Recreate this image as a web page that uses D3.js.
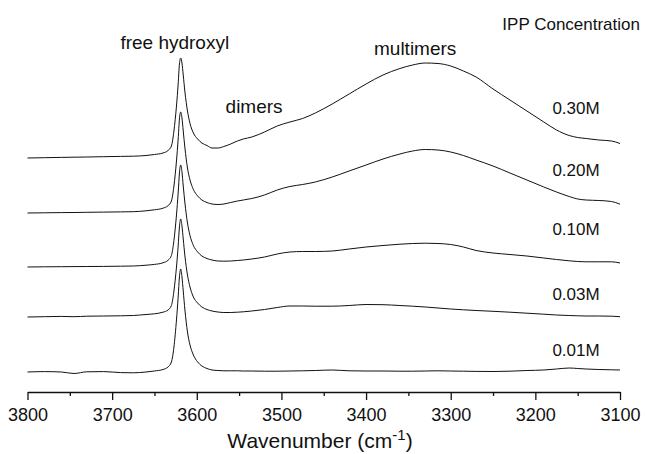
<!DOCTYPE html>
<html>
<head>
<meta charset="utf-8">
<script src="https://cdn.jsdelivr.net/npm/d3@7"></script>
<style>
  html, body { margin: 0; padding: 0; background: #fff; }
  svg { display: block; }
  text { font-family: "Liberation Sans", Arial, Helvetica, sans-serif; fill: #111; }
</style>
</head>
<body>
<svg id="chart" width="646" height="454"></svg>
<script>
// ---------- DATA ----------
const wavenumbers = [3800, 3780, 3760, 3745, 3730, 3710, 3690, 3675, 3660, 3650, 3640, 3634, 3630, 3627, 3624, 3622, 3620.5, 3619, 3617.5, 3616, 3614, 3611, 3608, 3604, 3599, 3594, 3588, 3582, 3575, 3568, 3560, 3552, 3545, 3535, 3520, 3505, 3490, 3475, 3460, 3440, 3420, 3400, 3380, 3360, 3345, 3330, 3315, 3300, 3285, 3270, 3250, 3230, 3210, 3190, 3175, 3160, 3150, 3140, 3125, 3110, 3100];

const concentrations = ["0.01M", "0.03M", "0.10M", "0.20M", "0.30M"];
const offsets = [0, 0.55, 1.05, 1.59, 2.14];

const s001 = [0, 0.004, 0.0, -0.015, 0.002, 0.004, -0.006, -0.008, 0.0, 0.01, 0.025, 0.05, 0.1, 0.25, 0.52, 0.75, 0.95, 1.03, 0.95, 0.81, 0.62, 0.4, 0.27, 0.17, 0.1, 0.06, 0.035, 0.02, 0.015, 0.012, 0.012, 0.012, 0.01, 0.01, 0.008, 0.008, 0.01, 0.012, 0.015, 0.02, 0.012, 0.01, 0.01, 0.008, 0.008, 0.01, 0.012, 0.01, 0.008, 0.006, 0.005, 0.008, 0.015, 0.02, 0.03, 0.04, 0.035, 0.03, 0.025, 0.022, 0.02];

const s003 = [0, 0.003, 0.006, 0.003, 0.008, 0.01, 0.012, 0.015, 0.025, 0.032, 0.048, 0.07, 0.115, 0.26, 0.5, 0.71, 0.9, 0.98, 0.91, 0.78, 0.61, 0.42, 0.3, 0.2, 0.14, 0.1, 0.075, 0.06, 0.05, 0.045, 0.045, 0.048, 0.052, 0.06, 0.075, 0.095, 0.11, 0.11, 0.108, 0.108, 0.115, 0.125, 0.123, 0.115, 0.108, 0.1, 0.09, 0.08, 0.072, 0.065, 0.057, 0.048, 0.038, 0.028, 0.02, 0.015, 0.012, 0.01, 0.01, 0.008, 0.003];

const s010 = [0, 0.002, 0.003, 0.004, 0.005, 0.006, 0.008, 0.01, 0.018, 0.026, 0.042, 0.067, 0.115, 0.265, 0.52, 0.74, 0.94, 1.02, 0.95, 0.81, 0.64, 0.44, 0.315, 0.215, 0.15, 0.11, 0.085, 0.07, 0.06, 0.058, 0.06, 0.065, 0.07, 0.08, 0.1, 0.13, 0.15, 0.155, 0.155, 0.16, 0.18, 0.2, 0.215, 0.228, 0.235, 0.238, 0.235, 0.225, 0.2, 0.165, 0.14, 0.125, 0.11, 0.09, 0.075, 0.062, 0.055, 0.052, 0.052, 0.052, 0.04];

const s020 = [0, 0.002, 0.004, 0.005, 0.007, 0.009, 0.011, 0.013, 0.022, 0.032, 0.048, 0.073, 0.12, 0.27, 0.52, 0.74, 0.94, 1.01, 0.95, 0.82, 0.65, 0.45, 0.33, 0.235, 0.17, 0.13, 0.105, 0.09, 0.085, 0.09, 0.105, 0.12, 0.13, 0.145, 0.18, 0.23, 0.265, 0.285, 0.31, 0.36, 0.42, 0.48, 0.54, 0.59, 0.62, 0.635, 0.63, 0.61, 0.575, 0.53, 0.47, 0.40, 0.33, 0.26, 0.21, 0.165, 0.14, 0.13, 0.125, 0.115, 0.088];

const s030 = [0, 0.003, 0.006, 0.008, 0.01, 0.013, 0.016, 0.018, 0.025, 0.035, 0.05, 0.075, 0.12, 0.27, 0.52, 0.74, 0.94, 1.0, 0.95, 0.83, 0.66, 0.47, 0.345, 0.25, 0.19, 0.15, 0.125, 0.10, 0.10, 0.115, 0.14, 0.17, 0.19, 0.21, 0.26, 0.32, 0.36, 0.395, 0.45, 0.54, 0.64, 0.74, 0.83, 0.895, 0.93, 0.95, 0.945, 0.92, 0.87, 0.81, 0.69, 0.58, 0.47, 0.36, 0.28, 0.225, 0.205, 0.195, 0.18, 0.17, 0.145];

const seriesList = [s001, s003, s010, s020, s030];

const xTicks = [3800, 3700, 3600, 3500, 3400, 3300, 3200, 3100];
const xMinorTicks = [3750, 3650, 3550, 3450, 3350, 3250, 3150];

const annotations = [
  { text: "free hydroxyl", wn: 3626, v: 3.23, anchor: "middle" },
  { text: "dimers", wn: 3566, v: 2.59, anchor: "start" },
  { text: "multimers", wn: 3342, v: 3.17, anchor: "middle" }
];
const labelY = [0.16, 0.72, 1.37, 1.96, 2.58]; // label baselines in plot units

// ---------- CHART ----------
const svg = d3.select("#chart");
const x = d3.scaleLinear().domain([3800, 3100]).range([27.5, 620]);
const y = d3.scaleLinear().domain([-0.2, 3.3]).range([392, 42]);

const line = d3.line()
  .x((d) => x(d[0]))
  .y((d) => y(d[1]))
  .curve(d3.curveMonotoneX);

seriesList.forEach((vals, i) => {
  const pts = wavenumbers.map((w, j) => [w, vals[j] + offsets[i]]);
  svg.append("path")
    .datum(pts)
    .attr("fill", "none")
    .attr("stroke", "#111")
    .attr("stroke-width", 1)
    .attr("d", line);
});

// axis
const axisY = y(-0.2);
const gMinor = svg.append("g")
  .attr("transform", `translate(0,${axisY})`)
  .call(d3.axisBottom(x).tickValues(xMinorTicks).tickSize(4).tickSizeOuter(0).tickFormat(""));
gMinor.select(".domain").remove();
gMinor.selectAll("line").attr("stroke", "#111").attr("stroke-width", 1.3);

const gAxis = svg.append("g")
  .attr("transform", `translate(0,${axisY})`)
  .call(d3.axisBottom(x).tickValues(xTicks).tickSize(8).tickSizeOuter(0).tickPadding(8).tickFormat(d3.format("d")));
gAxis.select(".domain").attr("stroke", "#111").attr("stroke-width", 1.3);
gAxis.selectAll("line").attr("stroke", "#111").attr("stroke-width", 1.3);
gAxis.selectAll("text")
  .attr("font-size", 18)
  .attr("font-family", '"Liberation Sans", Arial, Helvetica, sans-serif')
  .attr("fill", "#111");

// axis title
const title = svg.append("text")
  .attr("x", 320)
  .attr("y", 448)
  .attr("text-anchor", "middle")
  .attr("font-size", 21);
title.append("tspan").text("Wavenumber (cm");
title.append("tspan").attr("font-size", 15).attr("dy", -8).text("-1");
title.append("tspan").attr("dy", 8).text(")");

// annotations
annotations.forEach((a) => {
  svg.append("text")
    .attr("x", x(a.wn))
    .attr("y", y(a.v))
    .attr("text-anchor", a.anchor)
    .attr("font-size", 19)
    .text(a.text);
});

svg.append("text")
  .attr("x", 640)
  .attr("y", 30)
  .attr("text-anchor", "end")
  .attr("font-size", 17)
  .text("IPP Concentration");

concentrations.forEach((c, i) => {
  svg.append("text")
    .attr("x", 576)
    .attr("y", y(labelY[i]))
    .attr("text-anchor", "middle")
    .attr("font-size", 17)
    .text(c);
});
</script>
</body>
</html>
